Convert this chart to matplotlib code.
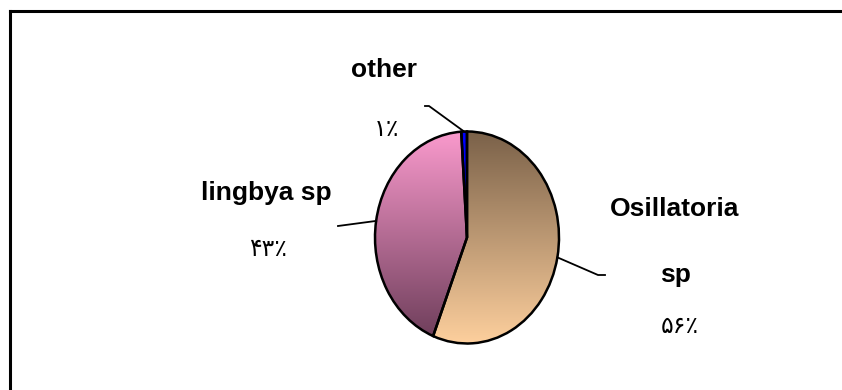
import numpy as np
import matplotlib.pyplot as plt
from matplotlib.colors import LinearSegmentedColormap

# data
labels = ["Osillatoria\n\nsp", "lingbya sp", "other"]
values = [56, 43, 1]
pct_labels = ["۵۶٪", "۴۳٪", "۱٪"]

# gradient colours (top -> bottom) per slice, solid for "other"
grad_colors = [("#7a6149", "#fdcf9d"), ("#fa9acd", "#6b3c58"), ("#0000ff", "#0000ff")]

W, H = 842, 390
fig = plt.figure(figsize=(W / 100, H / 100), dpi=100)

# pie axes placed so the (elliptical) pie spans the right pixels
cx, cy, rx, ry = 467, 237.5, 92, 106
ax = fig.add_axes([(cx - rx) / W, (H - cy - ry) / H, 2 * rx / W, 2 * ry / H])

wedges, _ = ax.pie(values, startangle=90, counterclock=False,
                   colors=[c[0] for c in grad_colors],
                   wedgeprops=dict(edgecolor="black", linewidth=1.8))
ax.set_aspect("auto")
ax.set_xlim(-1, 1)
ax.set_ylim(-1, 1)
ax.axis("off")

# gradient fills clipped to the wedges
grad = np.linspace(0, 1, 256).reshape(-1, 1)
for w, (c1, c2) in zip(wedges, grad_colors):
    cmap = LinearSegmentedColormap.from_list("g", [c1, c2])
    im = ax.imshow(grad, cmap=cmap, extent=[-1, 1, -1, 1], aspect="auto",
                   origin="upper", zorder=w.get_zorder())
    im.set_clip_path(w)
    w.set_facecolor("none")
    w.set_zorder(3)


def px(x, y):
    # pixel (from top-left) -> pie data coords
    return (x - cx) / rx, (cy - y) / ry


# leader lines starting at wedge mid angles
elbows = [[(598, 275), (605, 275)], [(338, 226)], [(429, 106), (425, 106)]]
for w, pts in zip(wedges, elbows):
    ang = np.deg2rad((w.theta1 + w.theta2) / 2)
    xs = [np.cos(ang)] + [px(*p)[0] for p in pts]
    ys = [np.sin(ang)] + [px(*p)[1] for p in pts]
    ax.plot(xs, ys, color="black", linewidth=1.3, clip_on=False, zorder=4)

# labels
name_pos = [(675, 242), (266, 193), (384, 70)]
pct_pos = [(680, 326), (268, 249), (387, 129)]
for name, pct, (nx, ny), (qx, qy) in zip(labels, pct_labels, name_pos, pct_pos):
    fig.text(nx / W, 1 - ny / H, name, ha="center", va="center",
             fontsize=19, fontweight="bold", family="Liberation Sans",
             linespacing=1.45)
    fig.text(qx / W, 1 - qy / H, pct, ha="center", va="center",
             fontsize=17, family=["DejaVu Sans Condensed", "DejaVu Sans"])

# chart frame (only top and left edges visible)
fig.add_artist(plt.Line2D([10 / W, 1], [1 - 11 / H, 1 - 11 / H],
                          transform=fig.transFigure, color="black", linewidth=2.2))
fig.add_artist(plt.Line2D([10 / W, 10 / W], [0, 1 - 11 / H],
                          transform=fig.transFigure, color="black", linewidth=2.2))

fig.savefig("out.png", dpi=100)
